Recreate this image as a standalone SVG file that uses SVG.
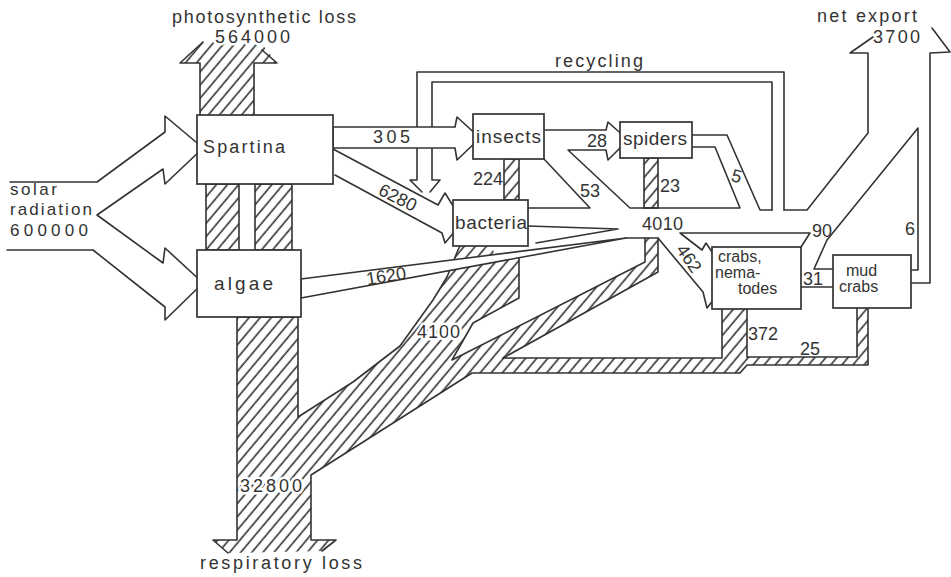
<svg xmlns="http://www.w3.org/2000/svg" width="951" height="577" viewBox="0 0 951 577">
<defs>
<pattern id="hatch" patternUnits="userSpaceOnUse" width="8.5" height="8.5" patternTransform="rotate(40)">
<rect width="8.5" height="8.5" fill="#fff"/>
<line x1="4" y1="-1" x2="4" y2="10" stroke="#333" stroke-width="1.6"/>
</pattern>
<style>
.ln{fill:none;stroke:#333;stroke-width:1.6;stroke-linejoin:round;stroke-linecap:round}
.wf{fill:#fff;stroke:#333;stroke-width:1.6;stroke-linejoin:round}
.hf{fill:url(#hatch);stroke:none}
.hs{fill:url(#hatch);stroke:#333;stroke-width:1.6}
.box{fill:#fff;stroke:#333;stroke-width:1.7}
text{font-family:"Liberation Sans",Arial,sans-serif;fill:#333;font-size:18px}
.lab{font-size:19px}
.sm{font-size:16px}
.src{font-size:17px}
.halo{paint-order:stroke;stroke:#fff;stroke-width:5px;stroke-linejoin:round}
</style>
</defs>
<rect width="951" height="577" fill="#fff"/>

<g id="respiration">
<path class="hf" d="M237,317 L298,317 L298,417 L353,382 L400,346 L433,300 L447,277 L458,250 L460,246 L492,246 L495,256 L519,252 L519,298 L473,323 L452,360 L645,262 L645,238 L658,238 L658,272 L503,358 L722,358 L722,309 L747,309 L747,357 L857,357 L857,308 L868,308 L868,365 L747,365 L740,373 L472,373 L311,475 L311,540 L336,540 L322,551 L228,553 L213,540 L237,540 Z"/>
<path class="ln" d="M237,540 V317 H298 V417 L353,382 L400,346 L433,300 L447,277 L458,250 L460,246 M519,252 V298 L473,323 L452,360 L645,262 V238 M658,238 V272 L503,358 H722 V309 M747,309 V357 H857 V308 M868,308 V365 H747 L740,373 H472 L311,475 V540 H336 L322,551 M237,540 H213 L228,553"/>
<path class="hf" d="M200,115 V63 H180 L203,42 L262,44 L277,63 H254 V115 Z"/>
<path class="ln" d="M200,115 V63 H180 L203,42 M254,115 V63 H277 L262,50"/>
<rect class="hs" x="206" y="184" width="33" height="66"/>
<rect class="hs" x="255" y="184" width="37" height="66"/>
<rect class="hs" x="504" y="159" width="15" height="41"/>
<rect class="hs" x="644" y="158" width="14" height="50"/>
</g>

<g id="connectors">
<path class="ln" d="M10,182 L97,182 L165,132 L165,116 L203,148 L165,184 L163,169 L97,215 L163,263 L165,248 L203,283 L165,320 L165,307 L93,250 L7,250"/>
<path class="ln" d="M417,180 V72 H784 V210 M432,180 V82 H772 V210 M417,180 H410 L422,192 M432,180 H440 L430,192"/>
<path class="wf" d="M333,127 H455 L457,117 L480,138 L457,160 L455,148 H333 Z"/>
<path class="ln" d="M333,149 L438,205 L445,193 L460,217 M335,175 L442,233 L445,243 L460,225"/>
<path class="wf" d="M301,279 L626,238 L301,298 Z"/>
<path class="ln" d="M626,238 H658 M528,226 L618,229 L536,243 M528,208 H590 L544,159 M545,130 H606 L608,122 L628,140 L608,160 L606,150 H568 L630,208 H740 L715,147 H692 M692,135 H727 L760,210 H772 M784,210 H807 L868,133 V53 H850 L873,37 M932,28 L950,52 L930,53 V283 H911 M911,270 H918 V128 L827,240 L814,269 H833 M801,287 H833 M801,247 L810,233 H680 L702,250 L706,243 L718,261 M658,238 L703,292 L707,308 L718,294"/>
</g>

<g id="node-spartina"><rect class="box" x="197" y="115" width="136" height="69"/><text x="203" y="153" font-size="20" textLength="82" lengthAdjust="spacing">Spartina</text></g>
<g id="node-algae"><rect class="box" x="197" y="250" width="104" height="67"/><text class="lab" x="214" y="290" textLength="59" lengthAdjust="spacing">algae</text></g>
<g id="node-insects"><rect class="box" x="473" y="114" width="71" height="45"/><text class="lab" x="476" y="143" textLength="65" lengthAdjust="spacing">insects</text></g>
<g id="node-bacteria"><rect class="box" x="453" y="200" width="75" height="46"/><text class="lab" x="455" y="229" textLength="72" lengthAdjust="spacing">bacteria</text></g>
<g id="node-spiders"><rect class="box" x="620" y="122" width="72" height="36"/><text class="lab" x="623" y="145" textLength="64" lengthAdjust="spacing">spiders</text></g>
<g id="node-crabs"><rect class="box" x="712" y="247" width="89" height="62"/><text class="sm" x="718" y="262">crabs,</text><text class="sm" x="715" y="278">nema-</text><text class="sm" x="738" y="294">todes</text></g>
<g id="node-mudcrabs"><rect class="box" x="833" y="255" width="78" height="53"/><text class="sm" x="846" y="276">mud</text><text class="sm" x="839" y="292">crabs</text></g>

<g id="labels">
<text class="halo" x="172" y="23" textLength="184" lengthAdjust="spacing">photosynthetic loss</text>
<text class="halo" x="215" y="43" textLength="75" lengthAdjust="spacing">564000</text>
<text class="src" x="10" y="195" textLength="47" lengthAdjust="spacing">solar</text>
<text class="src" x="10" y="215" textLength="82" lengthAdjust="spacing">radiation</text>
<text class="src" x="10" y="236" textLength="78" lengthAdjust="spacing">600000</text>
<text x="373" y="143" textLength="37" lengthAdjust="spacing">305</text>
<text transform="translate(395,203) rotate(27)" text-anchor="middle">6280</text>
<text x="473" y="185">224</text>
<text x="587" y="147">28</text>
<text x="580" y="197">53</text>
<text x="660" y="192">23</text>
<text transform="translate(735,182) rotate(15)" text-anchor="middle">5</text>
<text x="642" y="230" textLength="41" lengthAdjust="spacing">4010</text>
<text transform="translate(684,262) rotate(55)" text-anchor="middle">462</text>
<text x="812" y="237">90</text>
<text x="803" y="285">31</text>
<text x="905" y="235">6</text>
<text transform="translate(387,282) rotate(-9)" text-anchor="middle">1620</text>
<text class="halo" x="417" y="338" textLength="43" lengthAdjust="spacing">4100</text>
<text x="748" y="340">372</text>
<text x="800" y="355">25</text>
<text class="halo" x="240" y="492" textLength="62" lengthAdjust="spacing">32800</text>
<text x="555" y="67" textLength="88" lengthAdjust="spacing">recycling</text>
<text x="817" y="22" textLength="100" lengthAdjust="spacing">net export</text>
<text x="873" y="43" textLength="47" lengthAdjust="spacing">3700</text>
<text class="halo" x="200" y="569" textLength="162" lengthAdjust="spacing">respiratory loss</text>
</g>
</svg>
